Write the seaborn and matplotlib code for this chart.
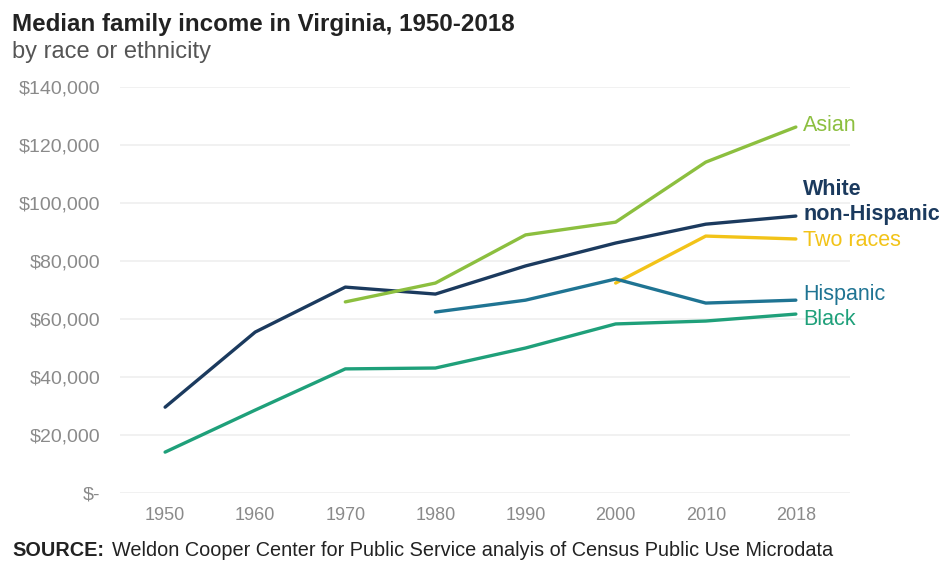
import numpy as np
import pandas as pd
import matplotlib
matplotlib.use("Agg")
import matplotlib.pyplot as plt
import seaborn as sns

# Census years (equally spaced categories on the x axis)
years = ["1950", "1960", "1970", "1980", "1990", "2000", "2010", "2018"]

# Median family income by group (None where no estimate exists)
white_nh = [29600, 55500, 71000, 68600, 78300, 86200, 92700, 95500]
asian = [None, None, 65900, 72400, 89000, 93400, 114100, 126200]
two_races = [None, None, None, None, None, 72400, 88600, 87600]
hispanic = [None, None, None, 62400, 66500, 73800, 65500, 66500]
black = [14100, 28600, 42800, 43100, 50000, 58300, 59300, 61700]

groups = ["White non-Hispanic", "Asian", "Two races", "Hispanic", "Black"]
series = [white_nh, asian, two_races, hispanic, black]
colors = ["#1b3a5e", "#8cbf3f", "#f2c318", "#1f7493", "#1fa07a"]

y_ticks = [0, 20000, 40000, 60000, 80000, 100000, 120000, 140000]
y_labels = ["$-", "$20,000", "$40,000", "$60,000", "$80,000",
            "$100,000", "$120,000", "$140,000"]

rows = []
for g, vals in zip(groups, series):
    for i, (yr, v) in enumerate(zip(years, vals)):
        if v is not None:
            rows.append({"pos": i, "year": yr, "group": g, "income": v})
df = pd.DataFrame(rows)

sns.set_theme(style="white")
plt.rcParams["font.family"] = ["Liberation Sans", "DejaVu Sans"]

fig = plt.figure(figsize=(9.43, 5.61), dpi=100)
ax = fig.add_axes([0.1273, 0.1212, 0.774, 0.7237])

sns.lineplot(data=df, x="pos", y="income", hue="group", hue_order=groups,
             palette=colors, linewidth=2.4, legend=False, ax=ax,
             sort=True, estimator=None)

ax.set_xlim(-0.5, 7.6)
ax.set_ylim(0, 140000)
ax.set_xticks(range(len(years)))
ax.set_xticklabels(years)
ax.set_yticks(y_ticks)
ax.set_yticklabels(y_labels)
ax.tick_params(axis="both", length=0, labelcolor="#8a8a8a")
ax.tick_params(axis="y", pad=14, labelsize=14)
ax.tick_params(axis="x", pad=10, labelsize=13)
ax.set_xlabel("")
ax.set_ylabel("")
for s in ax.spines.values():
    s.set_visible(False)
ax.grid(axis="y", color="#efefef", linewidth=1.2)
ax.set_axisbelow(True)

# Direct labels at the end of each line
label_pos = [
    ("White", 104800, colors[0], "bold"),
    ("non-Hispanic", 95900, colors[0], "bold"),
    ("Asian", 126900, colors[1], "normal"),
    ("Two races", 87200, colors[2], "normal"),
    ("Hispanic", 68600, colors[3], "normal"),
    ("Black", 59700, colors[4], "normal"),
]
for txt, yv, c, w in label_pos:
    ax.text(7.08, yv, txt, color=c, fontsize=15.5, fontweight=w,
            va="center", ha="left", clip_on=False)

fig.text(0.013, 1 - 25 / 561, "Median family income in Virginia, 1950-2018",
         fontsize=17.4, fontweight="bold", color="#222222", va="center")
fig.text(0.013, 1 - 52 / 561, "by race or ethnicity", fontsize=17,
         color="#555555", va="center")
fig.text(0.013, 1 - 551 / 561, "SOURCE:", fontsize=14.3, fontweight="bold",
         color="#222222", va="center")
fig.text(112 / 943, 1 - 551 / 561,
         "Weldon Cooper Center for Public Service analyis of Census Public Use Microdata",
         fontsize=14.3, color="#222222", va="center")

fig.savefig("out.png", dpi=100)
